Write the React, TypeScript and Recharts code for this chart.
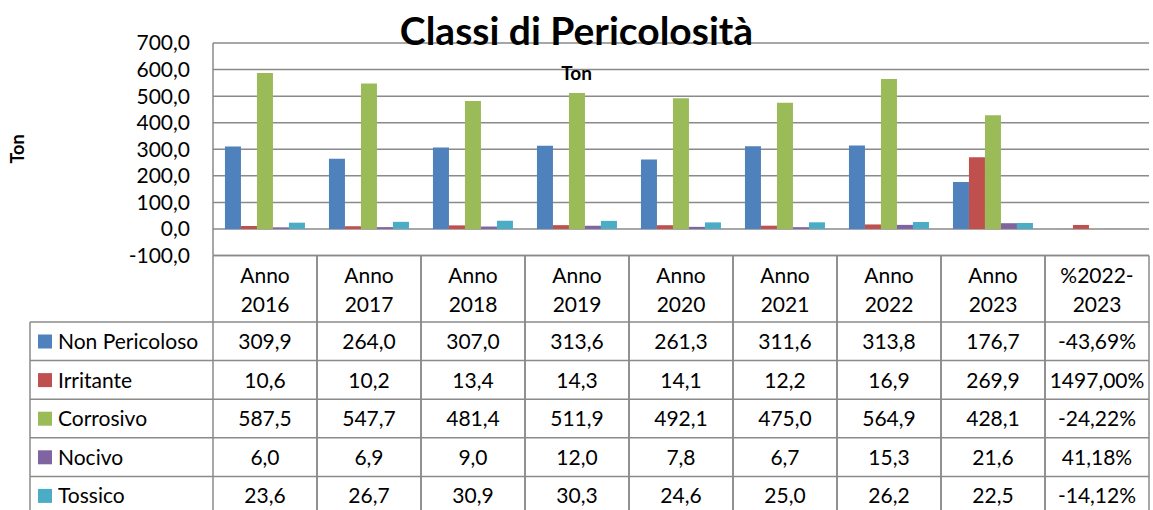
import { BarChart, Bar, XAxis, YAxis, CartesianGrid } from "recharts";

// categories (header lines split with \n, as in the data table)
const categories = [
  "Anno\n2016",
  "Anno\n2017",
  "Anno\n2018",
  "Anno\n2019",
  "Anno\n2020",
  "Anno\n2021",
  "Anno\n2022",
  "Anno\n2023",
  "%2022-\n2023",
];

// last column is the 2022->2023 change, stored as a fraction
const nonPericoloso = [309.9, 264.0, 307.0, 313.6, 261.3, 311.6, 313.8, 176.7, -0.4369];
const irritante = [10.6, 10.2, 13.4, 14.3, 14.1, 12.2, 16.9, 269.9, 14.97];
const corrosivo = [587.5, 547.7, 481.4, 511.9, 492.1, 475.0, 564.9, 428.1, -0.2422];
const nocivo = [6.0, 6.9, 9.0, 12.0, 7.8, 6.7, 15.3, 21.6, 0.4118];
const tossico = [23.6, 26.7, 30.9, 30.3, 24.6, 25.0, 26.2, 22.5, -0.1412];

const yTicks = [-100, 0, 100, 200, 300, 400, 500, 600, 700];

const series = [
  { key: "nonPericoloso", name: "Non Pericoloso", color: "#4F81BD", values: nonPericoloso },
  { key: "irritante", name: "Irritante", color: "#C0504D", values: irritante },
  { key: "corrosivo", name: "Corrosivo", color: "#9BBB59", values: corrosivo },
  { key: "nocivo", name: "Nocivo", color: "#8064A2", values: nocivo },
  { key: "tossico", name: "Tossico", color: "#4BACC6", values: tossico },
];

const data = categories.map((cat, i) => {
  const row: Record<string, string | number> = { cat };
  series.forEach((s) => {
    row[s.key] = s.values[i];
  });
  return row;
});

const FONT = "Lato, 'Open Sans', sans-serif";
const GRID = "#8a8a8a";
const COL_W = 104;
const HEAD_H = 66.5;
const ROW_H = 38.6;
const LEGEND_X = 30;
const FS = 21;

const comma = (v: number, d: number) => v.toFixed(d).replace(".", ",");

function cellText(v: number, i: number) {
  if (categories[i].startsWith("%")) return comma(v * 100, 2) + "%";
  return comma(v, 1);
}

// x-axis tick draws the header cell and the value cells of its column
function TableTick(props: any) {
  const { x, y, payload } = props;
  const i = payload.index;
  const left = x - COL_W / 2;
  const right = x + COL_W / 2;
  const [l1, l2] = categories[i].split("\n");
  const bottom = 515;

  return (
    <g>
      <line x1={left} x2={left} y1={y} y2={bottom} stroke={GRID} strokeWidth={1.5} />
      <line x1={right} x2={right} y1={y} y2={bottom} stroke={GRID} strokeWidth={1.5} />
      <text x={x} y={y + 27} textAnchor="middle" fontSize={FS} fill="#000" fontFamily={FONT}>
        {l1}
      </text>
      <text x={x} y={y + 56} textAnchor="middle" fontSize={FS} fill="#000" fontFamily={FONT}>
        {l2}
      </text>
      {series.map((s, r) => {
        const top = y + HEAD_H + r * ROW_H;
        return (
          <g key={s.key}>
            <line x1={left} x2={right} y1={top} y2={top} stroke={GRID} strokeWidth={1.5} />
            <text x={x} y={top + 27} textAnchor="middle" fontSize={FS} fill="#000" fontFamily={FONT}>
              {cellText(s.values[i], i)}
            </text>
          </g>
        );
      })}
      {i === 0 &&
        series.map((s, r) => {
          const top = y + HEAD_H + r * ROW_H;
          return (
            <g key={"lg" + s.key}>
              <line x1={LEGEND_X} x2={left} y1={top} y2={top} stroke={GRID} strokeWidth={1.5} />
              <rect x={LEGEND_X + 8} y={top + 12.5} width={14} height={14} fill={s.color} />
              <text x={LEGEND_X + 28} y={top + 27} fontSize={FS} fill="#000" fontFamily={FONT}>
                {s.name}
              </text>
            </g>
          );
        })}
      {i === 0 && (
        <line x1={LEGEND_X} x2={LEGEND_X} y1={y + HEAD_H} y2={bottom} stroke={GRID} strokeWidth={1.5} />
      )}
    </g>
  );
}

export default function App() {
  return (
    <div
      style={{
        position: "absolute",
        left: 0,
        top: 0,
        width: 1153,
        height: 510,
        background: "#fff",
        fontFamily: FONT,
        overflow: "hidden",
      }}
    >
      <BarChart
        width={1153}
        height={510}
        data={data}
        margin={{ top: 43, right: 4, left: 0, bottom: 0 }}
        barCategoryGap="11.5%"
        barGap={0}
      >
        <CartesianGrid vertical={false} stroke={GRID} strokeWidth={1.5} />
        <XAxis
          dataKey="cat"
          height={254.5}
          tickSize={0}
          tickMargin={0}
          interval={0}
          axisLine={{ stroke: GRID, strokeWidth: 1.5 }}
          tick={<TableTick />}
        />
        <YAxis
          width={213}
          domain={[-100, 700]}
          ticks={yTicks}
          interval={0}
          tickSize={0}
          tickMargin={23}
          tickFormatter={(v: number) => comma(v, 1)}
          tick={{ fontSize: FS, fill: "#000", fontFamily: FONT }}
          axisLine={{ stroke: GRID, strokeWidth: 1.5 }}
          tickLine={false}
          label={() => (
            <text
              x={24}
              y={149}
              transform="rotate(-90 24 149)"
              textAnchor="middle"
              fontSize={18}
              fontWeight={700}
              fill="#000"
              fontFamily={FONT}
            >
              Ton
            </text>
          )}
        />
        {series.map((s) => (
          <Bar key={s.key} dataKey={s.key} name={s.name} fill={s.color} isAnimationActive={false} />
        ))}
      </BarChart>
      <div
        style={{
          position: "absolute",
          left: 0,
          width: 1153,
          top: 6,
          textAlign: "center",
          fontSize: 39,
          fontWeight: 700,
          lineHeight: "48px",
          color: "#000",
        }}
      >
        Classi di Pericolosità
      </div>
      <div
        style={{
          position: "absolute",
          left: 0,
          width: 1153,
          top: 62,
          textAlign: "center",
          fontSize: 19,
          fontWeight: 700,
          lineHeight: "22px",
          color: "#000",
        }}
      >
        Ton
      </div>
    </div>
  );
}
